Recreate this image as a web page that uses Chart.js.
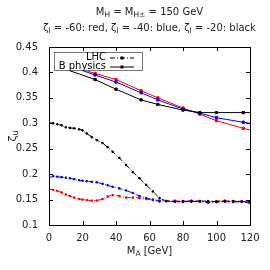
<!DOCTYPE html>
<html>
<head>
<meta charset="utf-8">
<script src="https://cdn.jsdelivr.net/npm/chart.js@4.4.0/dist/chart.umd.min.js"></script>
<style>
  html, body { margin: 0; padding: 0; background: #fff; }
  #wrap { width: 270px; height: 270px; }
</style>
</head>
<body>
<div id="wrap"><canvas id="c" width="270" height="270"></canvas></div>
<script>
// ---------------------- Data ----------------------
const xTicks = [0, 20, 40, 60, 80, 100, 120];
const yTicks = [0.1, 0.15, 0.2, 0.25, 0.3, 0.35, 0.4, 0.45];

// B physics (solid)
const maB = [10, 18, 27.5, 40, 55, 65, 80, 90, 100, 116, 120];
const bRed   = [0.418, 0.408, 0.398, 0.386, 0.364, 0.350, 0.330, 0.318, 0.305, 0.290, 0.287];
const bBlue  = [0.416, 0.406, 0.395, 0.381, 0.360, 0.346, 0.328, 0.320, 0.311, 0.302, 0.300];
const bBlack = [0.406, 0.397, 0.386, 0.367, 0.346, 0.337, 0.326, 0.321, 0.321, 0.321, 0.321];

// LHC (dash-dot)
const maL = [0, 2.5, 5, 7.5, 10, 12.5, 15, 18, 20, 22.5, 25.5, 28.5, 32, 35, 38, 42, 46, 50,
             54, 58, 62, 66, 70, 75, 80, 85, 90, 95, 100, 105, 110, 115, 120];
const lBlack = [0.301, 0.300, 0.298, 0.296, 0.292, 0.291, 0.290, 0.288, 0.286, 0.280, 0.273, 0.267,
                0.261, 0.253, 0.244, 0.232, 0.218, 0.204, 0.192, 0.179, 0.166, 0.153, 0.147, 0.146,
                0.147, 0.146, 0.147, 0.147, 0.146, 0.147, 0.147, 0.146, 0.145];
const lBlue  = [0.193, 0.196, 0.195, 0.194, 0.193, 0.192, 0.190, 0.188, 0.187, 0.186, 0.185, 0.184,
                0.181, 0.178, 0.175, 0.172, 0.168, 0.163, 0.157, 0.153, 0.150, 0.148, 0.147, 0.146,
                0.145, 0.147, 0.146, 0.144, 0.145, 0.146, 0.145, 0.146, 0.143];
const lRed   = [0.171, 0.169, 0.167, 0.164, 0.160, 0.157, 0.154, 0.151, 0.150, 0.149, 0.148, 0.148,
                0.151, 0.156, 0.159, 0.157, 0.154, 0.154, 0.153, 0.151, 0.149, 0.146, 0.147, 0.148,
                0.146, 0.148, 0.147, 0.146, 0.147, 0.148, 0.146, 0.147, 0.146];

const FONT = "'DejaVu Sans', sans-serif";
const DASHDOT = [5, 2, 1, 2];

function pts(xs, ys) {
  return xs.map((x, i) => ({ x, y: ys[i] }));
}

function bSet(ys, color) {
  return {
    data: pts(maB, ys),
    borderColor: color,
    backgroundColor: color,
    borderWidth: 1,
    pointStyle: "rect",
    pointRadius: ctx => (ctx.raw && ctx.raw.x >= 25 && ctx.raw.x <= 116 ? 1.6 : 0),
    tension: 0
  };
}

function lSet(ys, color) {
  return {
    data: pts(maL, ys),
    borderColor: color,
    backgroundColor: color,
    borderWidth: 1,
    borderDash: DASHDOT,
    pointStyle: "rect",
    pointRadius: 1,
    tension: 0
  };
}

// ---------------------- Helpers ----------------------
// draw text with subscripts, parts = [[text, isSub], ...]
function richWidth(ctx, parts, size) {
  let w = 0;
  parts.forEach(([t, sub]) => {
    ctx.font = `${sub ? size * 0.75 : size}px ${FONT}`;
    w += ctx.measureText(t).width;
  });
  return w;
}

function drawRich(ctx, parts, x, y, size) {
  let cx = x;
  parts.forEach(([t, sub]) => {
    ctx.font = `${sub ? size * 0.75 : size}px ${FONT}`;
    ctx.fillText(t, cx, sub ? y + size * 0.3 : y);
    cx += ctx.measureText(t).width;
  });
}

const title1 = [["M", 0], ["H", 1], [" = M", 0], ["H\u00b1", 1], [" = 150 GeV", 0]];
const title2 = [["\u03b6", 0], ["l", 1], [" = -60: red, \u03b6", 0], ["l", 1],
                [" = -40: blue, \u03b6", 0], ["l", 1], [" = -20: black", 0]];
const xLabel = [["M", 0], ["A", 1], [" [GeV]", 0]];
const yLabel = [["\u03b6", 0], ["u", 1]];

// ---------------------- Plugin ----------------------
const gnuplotFrame = {
  id: "gnuplotFrame",
  afterDatasetsDraw(chart) {
    const { ctx, chartArea: a, scales } = chart;
    ctx.save();
    ctx.strokeStyle = "#000";
    ctx.lineWidth = 1;
    ctx.setLineDash([]);

    // inward ticks
    const tl = 4;
    ctx.beginPath();
    xTicks.forEach(v => {
      const px = Math.round(scales.x.getPixelForValue(v)) + 0.5;
      ctx.moveTo(px, a.bottom); ctx.lineTo(px, a.bottom - tl);
      ctx.moveTo(px, a.top); ctx.lineTo(px, a.top + tl);
    });
    yTicks.forEach(v => {
      const py = Math.round(scales.y.getPixelForValue(v)) + 0.5;
      ctx.moveTo(a.left, py); ctx.lineTo(a.left + tl, py);
      ctx.moveTo(a.right, py); ctx.lineTo(a.right - tl, py);
    });
    ctx.stroke();

    // legend box
    const lx = 54.5, ly = 52.5, lw = 88, lh = 18;
    ctx.fillStyle = "#fff";
    ctx.fillRect(lx, ly, lw, lh);
    ctx.strokeStyle = "#777";
    ctx.strokeRect(lx, ly, lw, lh);
    ctx.strokeStyle = "#000";

    ctx.fillStyle = "#000";
    ctx.font = `10px ${FONT}`;
    ctx.textAlign = "right";
    ctx.textBaseline = "middle";
    ctx.fillText("LHC", 106, 57.5);
    ctx.fillText("B physics", 106, 66.5);

    ctx.beginPath();
    ctx.setLineDash(DASHDOT);
    ctx.moveTo(110, 58); ctx.lineTo(134, 58);
    ctx.stroke();
    ctx.setLineDash([]);
    ctx.beginPath();
    ctx.moveTo(110, 67); ctx.lineTo(134, 67);
    ctx.stroke();
    ctx.fillRect(120.5, 56.5, 3, 3);
    ctx.fillRect(120.5, 65.5, 3, 3);

    // frame
    ctx.strokeStyle = "#000";
    ctx.strokeRect(Math.round(a.left) + 0.5, Math.round(a.top) + 0.5,
                   Math.round(a.right - a.left), Math.round(a.bottom - a.top));

    // titles and axis labels
    ctx.fillStyle = "#222";
    ctx.textAlign = "left";
    ctx.textBaseline = "middle";
    const cx = (a.left + a.right) / 2;
    let w = richWidth(ctx, title1, 10);
    drawRich(ctx, title1, cx - w / 2, 12, 10);
    w = richWidth(ctx, title2, 10);
    drawRich(ctx, title2, cx - w / 2, 28, 10);
    w = richWidth(ctx, xLabel, 10);
    drawRich(ctx, xLabel, cx - w / 2, 251, 10);

    ctx.translate(13, (a.top + a.bottom) / 2);
    ctx.rotate(-Math.PI / 2);
    w = richWidth(ctx, yLabel, 11);
    drawRich(ctx, yLabel, -w / 2, 0, 11);
    ctx.restore();
  }
};

// ---------------------- Chart ----------------------
new Chart(document.getElementById("c"), {
  type: "line",
  data: {
    datasets: [
      lSet(lBlack, "#000"),
      lSet(lBlue, "#0000ff"),
      lSet(lRed, "#ff0000"),
      bSet(bBlack, "#000"),
      bSet(bBlue, "#0000ff"),
      bSet(bRed, "#ff0000")
    ]
  },
  options: {
    responsive: false,
    animation: false,
    layout: { padding: { top: 47, right: 20, left: 0, bottom: 0 } },
    plugins: { legend: { display: false }, title: { display: false }, tooltip: { enabled: false } },
    scales: {
      x: {
        type: "linear",
        min: 0, max: 120,
        grid: { display: false, drawTicks: false },
        border: { display: false },
        afterBuildTicks: s => { s.ticks = xTicks.map(v => ({ value: v })); },
        afterFit: s => { s.height = 45; },
        ticks: { color: "#222", font: { family: FONT, size: 10 }, padding: 7, maxRotation: 0,
                 callback: v => String(v) }
      },
      y: {
        type: "linear",
        min: 0.1, max: 0.45,
        grid: { display: false, drawTicks: false },
        border: { display: false },
        afterBuildTicks: s => { s.ticks = yTicks.map(v => ({ value: v })); },
        afterFit: s => { s.width = 49; },
        ticks: { color: "#222", font: { family: FONT, size: 10 }, padding: 11,
                 callback: v => String(Math.round(v * 100) / 100) }
      }
    }
  },
  plugins: [gnuplotFrame]
});
</script>
</body>
</html>
